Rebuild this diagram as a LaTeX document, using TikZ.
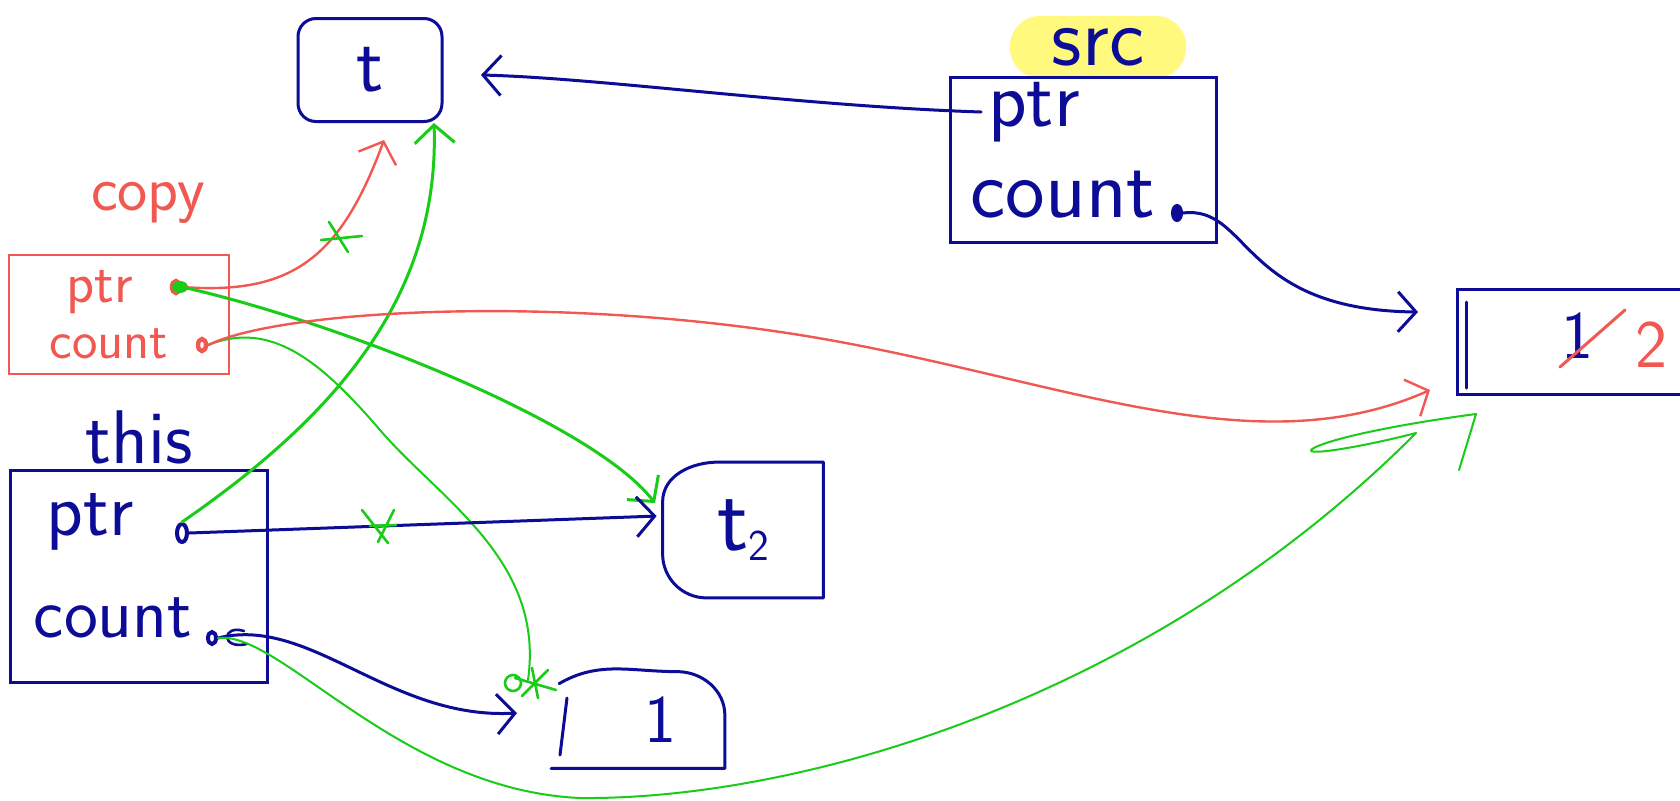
\documentclass[tikz,border=0pt]{standalone}
\usepackage{fontspec}
\usetikzlibrary{arrows.meta,shapes.geometric}
\definecolor{pen}{RGB}{12,12,150}
\definecolor{pred}{RGB}{242,88,82}
\definecolor{pgreen}{RGB}{24,204,24}
\definecolor{hl}{RGB}{255,250,125}
\newcommand{\myfs}[1]{\fontsize{#1}{#1}\selectfont}
\begin{document}
\begin{tikzpicture}[x=0.5pt,y=-0.5pt,
  box/.style={draw=pen,line width=1.5pt,inner sep=0pt},
  shell/.style={inner sep=0pt},
  bl/.style={draw=pen,line width=1.5pt,line cap=round,line join=round},
  rd/.style={draw=pred,line width=1.2pt,line cap=round,line join=round},
  gr/.style={draw=pgreen,line width=1pt,line cap=round,line join=round},
  grt/.style={gr,line width=1.5pt},
  tip/.style={-{Straight Barb[length=9pt,width=20pt]}},
  bt/.style={text=pen,font=\sffamily\myfs{36}},
  rt/.style={text=pred,font=\sffamily\myfs{27}},
  hole/.style={ellipse,draw=pen,line width=2pt,inner sep=0pt,minimum width=5pt,minimum height=9pt},
  rhole/.style={ellipse,draw=pred,line width=2.2pt,inner sep=0pt,minimum width=4pt,minimum height=6pt},
]
\useasboundingbox (0,0) rectangle (1680,800);
\clip (0,0) rectangle (1680,800);
\fill[white] (0,0) rectangle (1680,800);

% ---- nodes ----
\node[box,rounded corners=9pt,minimum width=72pt,minimum height=51.5pt,text=pen,font=\sffamily\myfs{40}] (t) at (370,70) {t};

\node[fill=hl,inner sep=1pt,rounded corners=15pt,minimum width=88pt,minimum height=31pt,text=pen,font=\sffamily\myfs{42}] (srclbl) at (1098,47) {src};
\node[box,minimum width=133pt,minimum height=82.5pt] (src) at (1083,160) {};
\node[bt,font=\sffamily\myfs{40}] (srcptr) at (1034,112) {ptr};
\node[bt,font=\sffamily\myfs{42}] (srccount) at (1063,195) {count};
\node[hole,fill=pen,minimum width=4pt,minimum height=7pt] (srcdot) at (1177,213) {};

\node[draw=pred,line width=1.2pt,minimum width=110pt,minimum height=59.5pt] (copy) at (119,314.5) {};
\node[rt,font=\sffamily\myfs{32}] (copylbl) at (148,203) {copy};
\node[rt,font=\sffamily\myfs{29}] (cptr) at (100,292) {ptr};
\node[rt] (ccount) at (109,344) {count};
\node[rhole] (cpdot) at (176,287) {};
\node[rhole] (ccdot) at (202,345) {};
\fill[pgreen] ([xshift=2pt]cpdot.center) ellipse [x radius=4pt, y radius=3pt];

\node[text=pen,font=\sffamily\myfs{38}] (thislbl) at (139,437) {this};
\node[box,minimum width=128.5pt,minimum height=106pt] (this) at (138.5,576) {};
\node[bt,font=\sffamily\myfs{38}] (tptr) at (90,522) {ptr};
\node[bt] (tcount) at (113,618) {count};
\node[hole] (tpdot) at (182,533) {};
\node[hole,minimum width=4pt,minimum height=6pt] (tcdot) at (212,638) {};
\draw[bl,line width=1.3pt] (244,631) .. controls (222,624) and (220,650) .. (247,644);

\node[shell,minimum width=80pt,minimum height=67.5pt,text=pen,font=\sffamily\myfs{46}] (t2) at (743,530) {t\raisebox{-5pt}{\myfs{22}2}};
\draw[bl] (t2.north east) -- (t2.south east) -- ([xshift=22pt]t2.south west) to[out=180,in=-90] ([yshift=22pt]t2.south west) -- ([yshift=-20pt]t2.north west) to[out=90,in=180] ([xshift=28pt]t2.north west) -- ([xshift=-14pt]t2.north east) -- cycle;

\node[shell,minimum width=86.5pt,minimum height=48pt] (one) at (638,720) {};
\node[bt,font=\sffamily\myfs{34}] (onetxt) at (660,720) {1};
\draw[bl] ([xshift=4pt,yshift=-6pt]one.north west) to[out=30,in=180] ([xshift=-24pt]one.north east) to[out=0,in=90] ([yshift=-22pt]one.north east) -- (one.south east) -- (one.south west);
\draw[bl] (567,698) -- (560,755);

\node[box,minimum width=132pt,minimum height=52.5pt,anchor=west] (rc) at (1456,342) {};
\draw[bl] (1466,302) -- (1466,388);
\node[bt,font=\sffamily\myfs{34}] (rone) at (1577,336) {1};
\draw[rd,line width=1.5pt] (1560,367) -- (1625,310);
\node[rt,font=\sffamily\myfs{34}] (rtwo) at (1651,345) {2};

% ---- free ends ----
\coordinate (tA) at (481,75);
\coordinate (rA) at (1418,312);
\coordinate (tR) at (384,140);
\coordinate (tG) at (434,123);
\coordinate (t2G) at (655,503);
\coordinate (oneG) at (528,680);
\coordinate (oneB) at (517,713);
\coordinate (rR) at (1430,390);
\coordinate (rG) at (1476,414);
\coordinate (rGe) at (1459,470);

% ---- connectors ----
\draw[bl,tip] (srcptr.west) .. controls (800,106) and (600,78) .. (tA);
\draw[bl,tip] (srcdot.east) .. controls (1250,205) and (1240,310) .. (rA);
\draw[rd,tip] (cpdot.east) .. controls (290,295) and (340,260) .. (tR);
\draw[grt,tip] (tpdot.north) .. controls (330,420) and (440,300) .. (tG);
\draw[grt,tip] (cpdot.east) .. controls (330,320) and (590,420) .. (t2G);
\draw[gr] (ccdot.east) .. controls (270,320) and (320,360) .. (380,430) .. controls (440,500) and (545,560) .. (oneG);
\draw[gr,line width=1.3pt] (515,678) -- (556,690) (522,696) -- (548,670) (532,668) -- (538,698);
\draw[gr,line width=1.3pt] (513,683) circle [radius=4pt];
\draw[bl,tip,shorten >=3pt] (tpdot.east) -- (t2.170);
\draw[bl,tip] (tcdot.east) .. controls (310,615) and (390,720) .. (oneB);
\draw[rd,tip] (ccdot.east) .. controls (280,310) and (550,295) .. (800,335) .. controls (1050,375) and (1250,470) .. (rR);
\draw[gr] (tcdot.east) .. controls (280,630) and (400,790) .. (580,798) .. controls (800,800) and (1150,700) .. (1416,433) .. controls (1350,450) and (1290,458) .. (1318,446) .. controls (1350,433) and (1430,420) .. (rG) -- (rGe);

% ---- cross marks ----
\draw[gr,line width=1.3pt] (321,240) -- (362,236) (329,222) -- (348,252);
\draw[gr,line width=1.3pt] (362,510) -- (388,543) (394,510) -- (378,542) (370,526) -- (396,525);
\end{tikzpicture}
\end{document}
